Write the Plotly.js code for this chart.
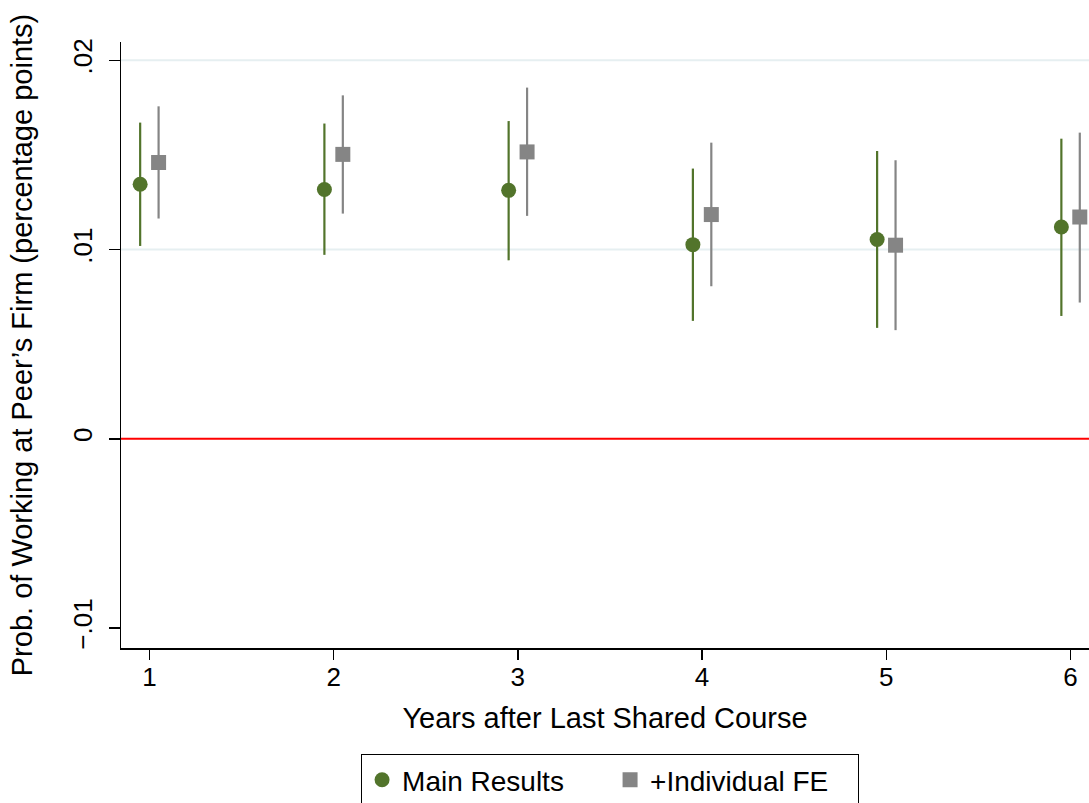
<!DOCTYPE html>
<html>
<head>
<meta charset="utf-8">
<script src="https://cdn.plot.ly/plotly-3.0.1.min.js"></script>
<style>
  html, body { margin: 0; padding: 0; background: #ffffff; }
  #chart { width: 1089px; height: 803px; }
</style>
</head>
<body>
<div id="chart"></div>
<script>
// Years after the last shared course
const years = [1, 2, 3, 4, 5, 6];

// Main specification: point estimates and 95% CI bounds
const mainEst   = [0.01345, 0.01317, 0.01313, 0.01026, 0.01053, 0.01119];
const mainLow   = [0.01019, 0.00972, 0.00943, 0.00623, 0.00586, 0.00649];
const mainHigh  = [0.01671, 0.01666, 0.01679, 0.01428, 0.01521, 0.01586];

// Specification with individual fixed effects
const feEst     = [0.01460, 0.01503, 0.01516, 0.01185, 0.01023, 0.01172];
const feLow     = [0.01164, 0.01190, 0.01178, 0.00806, 0.00574, 0.00720];
const feHigh    = [0.01757, 0.01815, 0.01856, 0.01565, 0.01472, 0.01618];

// Horizontal offset so the two estimates sit side by side
const dodge = 0.05;

// Y tick positions and labels
const yTickVals = [-0.01, 0, 0.01, 0.02];
const yTickText = ['\u2212.01', '0', '.01', '.02'];
// Grid lines drawn only above zero
const gridVals = [0.01, 0.02];

const green = '#52742b';
const gray = '#858585';
const fontFamily = 'Liberation Sans, Arial, Helvetica, sans-serif';

function ciTrace(name, est, low, high, shift, color, symbol) {
  return {
    type: 'scatter',
    mode: 'markers',
    name: name,
    x: years.map(v => v + shift),
    y: est,
    marker: { color: color, symbol: symbol, size: 15, line: { width: 0 } },
    error_y: {
      type: 'data',
      symmetric: false,
      array: high.map((h, i) => h - est[i]),
      arrayminus: est.map((e, i) => e - low[i]),
      color: color,
      thickness: 2.2,
      width: 0
    },
    hoverinfo: 'x+y'
  };
}

const traces = [
  ciTrace('Main Results', mainEst, mainLow, mainHigh, -dodge, green, 'circle'),
  ciTrace('+Individual FE', feEst, feLow, feHigh, dodge, gray, 'square')
];

const shapes = gridVals.map(v => ({
  type: 'line', xref: 'paper', yref: 'y',
  x0: 0, x1: 1, y0: v, y1: v,
  line: { color: '#e6eff1', width: 2 },
  layer: 'below'
}));
// Reference line at zero
shapes.push({
  type: 'line', xref: 'paper', yref: 'y',
  x0: 0, x1: 1, y0: 0, y1: 0,
  line: { color: '#ff0000', width: 2 },
  layer: 'below'
});

const layout = {
  width: 1089,
  height: 803,
  margin: { l: 121, r: 0, t: 42, b: 155, autoexpand: false },
  paper_bgcolor: '#ffffff',
  plot_bgcolor: '#ffffff',
  font: { family: fontFamily, size: 26, color: '#000000' },
  showlegend: true,
  legend: {
    orientation: 'h',
    x: 0.248, xanchor: 'left',
    y: -0.175, yanchor: 'top',
    bordercolor: '#000000',
    borderwidth: 1,
    font: { family: fontFamily, size: 28, color: '#000000' },
    itemwidth: 30,
    entrywidth: 203,
    entrywidthmode: 'pixels'
  },
  xaxis: {
    range: [0.846, 6.10],
    tickvals: years,
    ticktext: years.map(String),
    ticks: 'outside',
    ticklen: 10,
    tickwidth: 1.5,
    tickcolor: '#000000',
    showline: true,
    linecolor: '#000000',
    linewidth: 1.5,
    showgrid: false,
    zeroline: false,
    ticklabelstandoff: -5,
    tickfont: { family: fontFamily, size: 26 },
    title: { text: 'Years after Last Shared Course', font: { family: fontFamily, size: 29 }, standoff: 17 }
  },
  yaxis: {
    range: [-0.01106, 0.02097],
    tickvals: yTickVals,
    ticktext: yTickText,
    tickangle: -90,
    ticks: 'outside',
    ticklen: 11,
    tickwidth: 1.5,
    tickcolor: '#000000',
    showline: true,
    linecolor: '#000000',
    linewidth: 1.5,
    showgrid: false,
    zeroline: false,
    ticklabelstandoff: 6,
    tickfont: { family: fontFamily, size: 26 },
    title: { text: 'Prob. of Working at Peer\u2019s Firm (percentage points)', font: { family: fontFamily, size: 29 }, standoff: 27 }
  },
  shapes: shapes
};

Plotly.newPlot('chart', traces, layout, { displayModeBar: false, staticPlot: true });
</script>
</body>
</html>
